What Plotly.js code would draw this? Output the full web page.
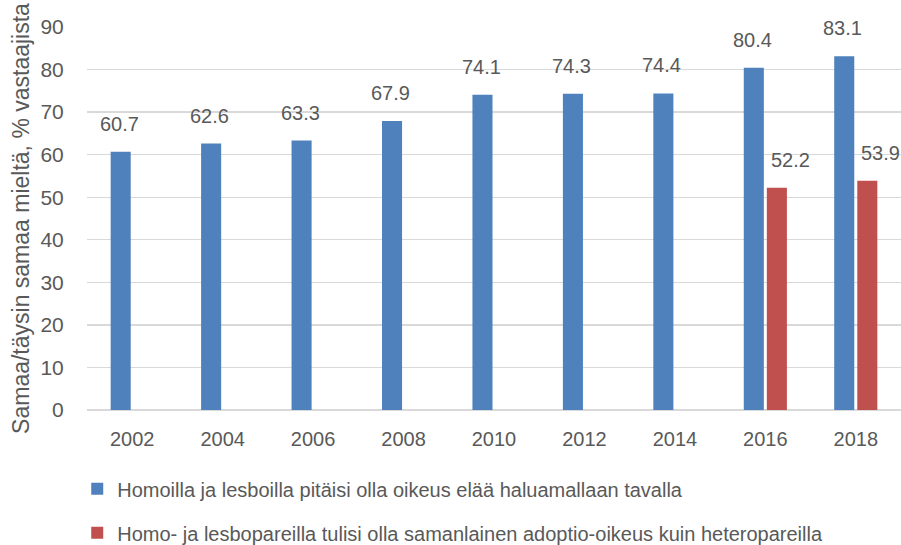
<!DOCTYPE html>
<html>
<head>
<meta charset="utf-8">
<script src="https://cdn.plot.ly/plotly-3.0.1.min.js"></script>
<style>html,body{margin:0;padding:0;background:#fff;}</style>
</head>
<body>
<div id="chart"></div>
<script>
const years = ["2002","2004","2006","2008","2010","2012","2014","2016","2018"];
const seriesNames = [
  "Homoilla ja lesboilla pitäisi olla oikeus elää haluamallaan tavalla",
  "Homo- ja lesbopareilla tulisi olla samanlainen adoptio-oikeus kuin heteropareilla"
];
const livingRight = [60.7, 62.6, 63.3, 67.9, 74.1, 74.3, 74.4, 80.4, 83.1];
const adoptionRight = [null, null, null, null, null, null, null, 52.2, 53.9];
const yTicks = [0,10,20,30,40,50,60,70,80,90];
const colors = ["#4F81BD", "#C0504D"];

const FONT = "Liberation Sans, Arial, sans-serif";
const TXT = "#595959";

const traces = [
  {type:"bar", name:seriesNames[0], x:years, y:livingRight, marker:{color:colors[0]}, legendgroup:"a"},
  {type:"bar", name:seriesNames[1], x:years, y:adoptionRight, marker:{color:colors[1]}, legendgroup:"b"}
];

const annotations = [];
livingRight.forEach((v,i)=>{ if(v!==null) annotations.push({x:i, y:v, xref:"x", yref:"y", text:v.toFixed(1), showarrow:false, yanchor:"bottom", yshift:15, xshift:-13, font:{family:FONT,size:20,color:TXT}}); });
adoptionRight.forEach((v,i)=>{ if(v!==null) annotations.push({x:i, y:v, xref:"x", yref:"y", text:v.toFixed(1), showarrow:false, yanchor:"bottom", yshift:15, xshift:25, font:{family:FONT,size:20,color:TXT}}); });

const layout = {
  width:901, height:545,
  margin:{l:87, r:0, t:27, b:135, autoexpand:false},
  paper_bgcolor:"#fff", plot_bgcolor:"#fff",
  font:{family:FONT, size:20, color:TXT},
  barmode:"group", bargap:0.49, bargroupgap:0.13,
  showlegend:true,
  legend:{orientation:"v", x:-0.012, xanchor:"left", y:-0.155, yanchor:"top", font:{family:FONT,size:20,color:TXT}, tracegroupgap:15},
  xaxis:{type:"category", range:[-0.5, years.length-0.5], showgrid:false, showline:false, ticks:"outside", ticklen:11, tickcolor:"rgba(0,0,0,0)", tickfont:{family:FONT,size:20,color:TXT}},
  yaxis:{range:[0,90], tickvals:yTicks, showgrid:true, gridcolor:"#D9D9D9", gridwidth:1.3, zeroline:true, zerolinecolor:"#D9D9D9", zerolinewidth:1.3, showline:false, ticks:"outside", ticklen:18, tickcolor:"rgba(0,0,0,0)", tickfont:{family:FONT,size:21,color:TXT},
    title:{text:"Samaa/täysin samaa mieltä, % vastaajista", font:{family:FONT,size:23,color:TXT}, standoff:4}},
  annotations:annotations
};

Plotly.newPlot("chart", traces, layout, {displayModeBar:false, staticPlot:true});
</script>
</body>
</html>
